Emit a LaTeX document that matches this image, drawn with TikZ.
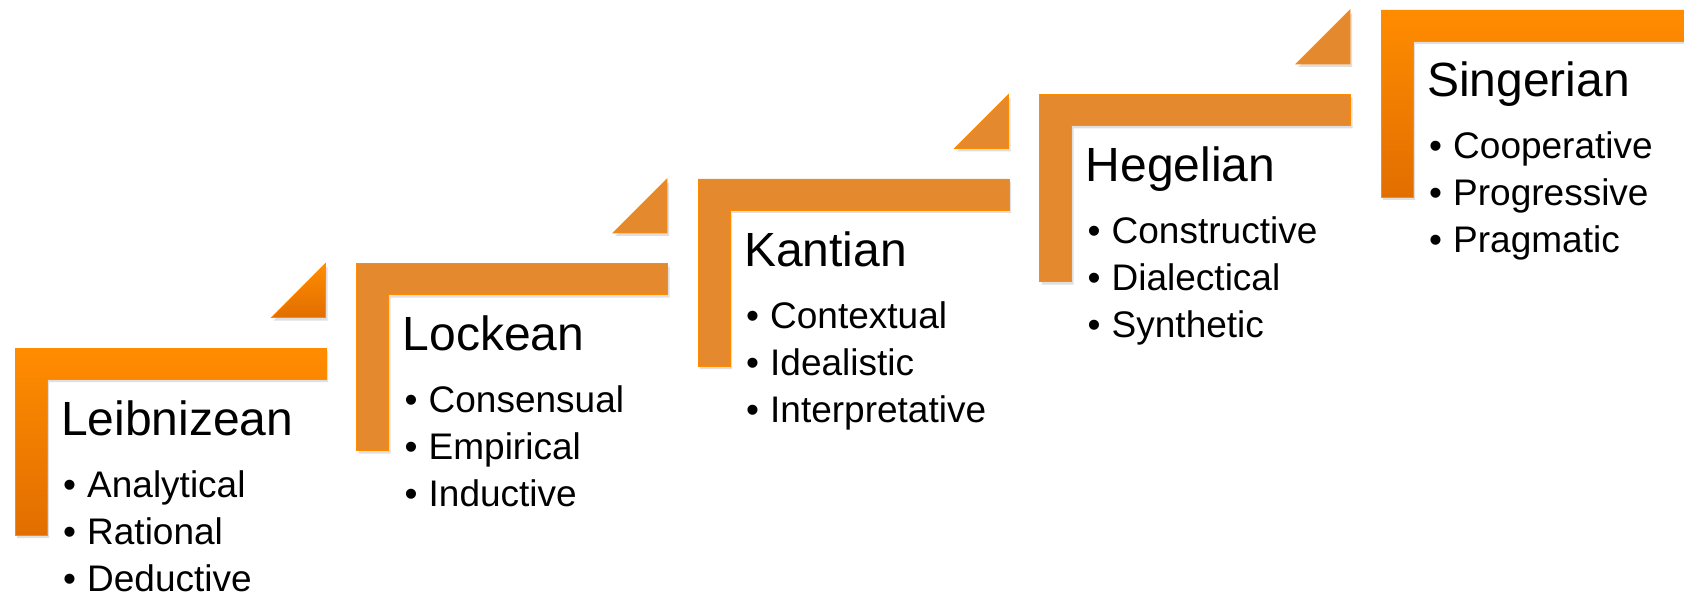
\documentclass[tikz,border=0pt]{standalone}
\usepackage{fontspec}
\setmainfont{Liberation Sans}
\usetikzlibrary{shadows}

\definecolor{stepbright}{RGB}{255,140,0}
\definecolor{stepdark}{RGB}{226,110,0}
\definecolor{stepmuted}{RGB}{229,137,46}

\tikzset{
  stepshadow/.style={drop shadow={opacity=0.25, shadow xshift=2pt, shadow yshift=-3pt}},
  brightstep/.style={stepshadow, top color=stepbright, bottom color=stepdark, draw=stepbright, line width=0.8pt},
  mutedstep/.style={stepshadow, fill=stepmuted, draw=stepbright, line width=0.8pt},
  titletext/.style={anchor=base west, inner sep=0pt, font=\fontsize{48}{57}\selectfont},
  itemtext/.style={anchor=base west, inner sep=0pt, font=\fontsize{37}{44}\selectfont},
}

\begin{document}
\begin{tikzpicture}[x=1pt, y=-1pt]
\useasboundingbox (0,0) rectangle (1684,596);
\clip (0,0) rectangle (1684,596);

% small triangles in front of each step
\foreach \i/\sty in {1/brightstep, 2/mutedstep, 3/mutedstep, 4/mutedstep}{
    \pgfmathsetmacro\sx{15+341.5*\i}
    \pgfmathsetmacro\sy{348-84.5*\i}
    \path [\sty] (\sx-85,\sy+54) -- (\sx-31,\sy+54) -- (\sx-31,\sy) -- cycle;
}

% the L-shaped steps with their titles and items
\foreach \i/\nm/\ia/\ib/\ic/\sty in {
    0/Leibnizean/Analytical/Rational/Deductive/brightstep,
    1/Lockean/Consensual/Empirical/Inductive/mutedstep,
    2/Kantian/Contextual/Idealistic/Interpretative/mutedstep,
    3/Hegelian/Constructive/Dialectical/Synthetic/mutedstep,
    4/Singerian/Cooperative/Progressive/Pragmatic/brightstep}{
    \pgfmathsetmacro\sx{15+341.5*\i}
    \pgfmathsetmacro\sy{348-84.5*\i}
    \path [\sty] (\sx,\sy) -- (\sx+311,\sy) -- (\sx+311,\sy+31)
        -- (\sx+32,\sy+31) -- (\sx+32,\sy+187) -- (\sx,\sy+187) -- cycle;

    \node [titletext] (title\i) at (\sx+46,\sy+87) {\nm};

    \node [itemtext] (dota\i) at (\sx+48,\sy+149) {•};
    \node [itemtext] (itema\i) at (\sx+72,\sy+149) {\ia};
    \node [itemtext] (dotb\i) at (\sx+48,\sy+196) {•};
    \node [itemtext] (itemb\i) at (\sx+72,\sy+196) {\ib};
    \node [itemtext] (dotc\i) at (\sx+48,\sy+243) {•};
    \node [itemtext] (itemc\i) at (\sx+72,\sy+243) {\ic};
}

\end{tikzpicture}
\end{document}
